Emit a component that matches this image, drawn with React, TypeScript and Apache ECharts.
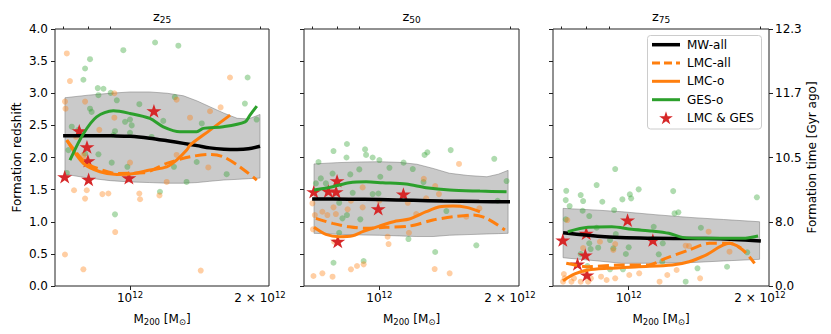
import React, { useEffect, useRef } from 'react';
import * as echarts from 'echarts';

// ---------- axes / labels ----------
const panelTitles = ['25', '50', '75'];
const xRangeMass = [0.6704, 2.098]; // in units of 1e12 Msun
const xMajorTickMasses = [1];
const xLabelMasses = [1, 2];
const xTickLabels = ['10{sup|12}', '2 × 10{sup|12}'];
const xMinorTickMasses = [0.7, 0.8, 0.9, 2];
const yRange = [0, 4];
const rightTickLabels = ['0.0', '8.0', '10.5', '11.7', '12.3'];
const legendNames = ['MW-all', 'LMC-all', 'LMC-o', 'GES-o', 'LMC & GES'];

// ---------- stars (LMC & GES), shared halo masses ----------
const starMass = [0.706, 0.763, 0.795, 0.799, 0.802, 0.994, 1.136];
const starZ25 = [1.70, 2.415, 2.166, 1.949, 1.66, 1.684, 2.726];
const starZ50 = [1.467, 1.477, 1.467, 1.638, 0.695, 1.202, 1.431];
const starZ75 = [0.715, 0.342, 0.482, 0.82, 0.171, 1.026, 0.715];

// ---------- z25 ----------
const band25M = [0.707, 0.80, 0.90, 1.0, 1.11, 1.22, 1.33, 1.43, 1.53, 1.65, 1.77, 1.88, 2.0];
const band25Top = [2.93, 2.97, 3.0, 3.02, 3.02, 3.0, 2.96, 2.88, 2.79, 2.69, 2.61, 2.60, 2.67];
const band25Bot = [1.74, 1.68, 1.64, 1.62, 1.61, 1.60, 1.60, 1.61, 1.63, 1.65, 1.66, 1.67, 1.68];
const mw25M = [0.70, 0.80, 0.915, 1.0, 1.11, 1.22, 1.33, 1.43, 1.53, 1.65, 1.77, 1.88, 2.0];
const mw25 = [2.34, 2.34, 2.337, 2.33, 2.30, 2.26, 2.22, 2.185, 2.15, 2.13, 2.125, 2.135, 2.175];
const ges25M = [0.726, 0.78, 0.837, 0.915, 1.0, 1.112, 1.194, 1.305, 1.427, 1.478, 1.644, 1.847, 1.896, 1.966];
const ges25 = [1.96, 2.37, 2.633, 2.726, 2.686, 2.608, 2.478, 2.40, 2.40, 2.453, 2.478, 2.555, 2.66, 2.80];
const lmco25M = [0.714, 0.78, 0.852, 0.932, 1.0, 1.112, 1.216, 1.282, 1.353, 1.377, 1.532, 1.705];
const lmco25 = [2.27, 1.908, 1.778, 1.737, 1.742, 1.804, 1.855, 1.96, 2.115, 2.193, 2.426, 2.66];
const lmca25M = [0.714, 0.78, 0.822, 0.932, 1.073, 1.216, 1.377, 1.532, 1.644, 1.796, 1.966];
const lmca25 = [2.27, 1.95, 1.855, 1.752, 1.762, 1.908, 2.011, 2.048, 2.011, 1.855, 1.649];
const gesDots25 = [[1.143,3.79],[1.294,3.74],[0.965,3.67],[0.808,3.53],[0.787,3.385],[0.780,3.21],[0.842,3.08],[0.868,3.07],[0.845,2.97],[0.902,3.006],[0.932,2.89],[1.051,2.83],[1.27,2.94],[1.194,2.57],[0.808,2.76],[0.815,2.71],[1.0,2.59],[0.974,2.555],[1.009,2.50],[1.0,2.385],[0.923,2.41],[0.915,2.35],[0.759,2.43],[0.733,2.48],[1.122,2.32],[1.466,2.53],[1.845,2.84],[1.964,2.59],[1.872,3.245],[0.720,2.115],[0.787,2.06],[0.845,2.05],[0.907,1.92],[0.986,1.855],[1.264,1.855],[1.427,1.93],[1.352,1.62],[1.674,1.74],[1.173,1.467],[0.923,1.115],[0.714,1.76]];
const lmcDots25 = [[0.714,3.62],[0.726,3.19],[0.707,2.87],[0.709,2.76],[0.787,2.87],[0.920,3.0],[0.849,2.43],[0.780,2.04],[0.787,1.96],[1.0,1.92],[1.282,2.04],[1.282,2.90],[1.377,2.62],[1.532,2.72],[1.621,2.78],[1.704,3.245],[1.518,1.845],[1.216,1.62],[0.742,1.49],[0.794,1.49],[0.787,1.36],[0.863,1.43],[0.891,1.44],[1.051,1.44],[1.055,1.35],[0.924,0.84],[0.707,0.49],[0.780,0.26],[1.458,0.24],[0.92,2.62],[0.75,2.32],[1.17,1.41]];

// ---------- z50 ----------
const band50M = [0.707, 0.80, 0.90, 1.0, 1.11, 1.22, 1.33, 1.45, 1.60, 1.77, 1.88, 1.98];
const band50Top = [1.90, 1.92, 1.93, 1.934, 1.925, 1.895, 1.83, 1.755, 1.72, 1.70, 1.74, 1.80];
const band50Bot = [0.82, 0.805, 0.795, 0.79, 0.78, 0.77, 0.77, 0.79, 0.80, 0.81, 0.815, 0.82];
const mw50M = [0.70, 0.85, 1.0, 1.2, 1.4, 1.7, 2.0];
const mw50 = [1.353, 1.352, 1.345, 1.335, 1.322, 1.315, 1.311];
const ges50M = [0.707, 0.78, 0.852, 0.932, 1.018, 1.153, 1.282, 1.452, 1.705, 1.964];
const ges50 = [1.493, 1.544, 1.607, 1.622, 1.607, 1.586, 1.529, 1.493, 1.477, 1.467];
const lmco50M = [0.707, 0.753, 0.808, 0.868, 0.915, 1.0, 1.093, 1.173, 1.282, 1.377, 1.478, 1.587, 1.705];
const lmco50 = [0.913, 0.804, 0.767, 0.782, 0.845, 0.933, 1.011, 1.042, 1.156, 1.233, 1.244, 1.224, 1.156];
const lmca50M = [0.714, 0.78, 0.852, 0.932, 1.036, 1.173, 1.329, 1.478, 1.644, 1.766, 1.947];
const lmca50 = [1.053, 0.975, 0.922, 0.897, 0.913, 0.933, 1.026, 1.078, 1.104, 1.053, 0.871];
const gesDots50 = [[0.842,2.21],[0.927,2.126],[0.784,2.10],[0.932,2.04],[0.840,2.00],[0.965,2.00],[1.0,1.96],[1.29,2.08],[1.271,2.04],[1.46,2.115],[1.84,1.98],[0.724,1.93],[1.137,1.92],[1.055,1.84],[1.194,1.82],[0.899,1.815],[0.78,1.75],[0.857,1.737],[1.005,1.70],[1.264,1.617],[0.733,1.675],[0.714,1.597],[0.753,1.597],[0.868,1.45],[0.965,1.43],[0.995,1.44],[0.808,1.295],[0.822,1.053],[0.842,1.104],[0.904,1.037],[1.427,1.166],[1.873,1.327],[1.964,1.633],[1.167,0.731],[1.345,0.529],[1.673,0.633],[0.784,0.362],[0.920,0.389],[0.808,0.829]];
const lmcDots50 = [[1.526,1.90],[1.266,1.668],[1.345,1.555],[0.915,1.535],[1.372,1.43],[1.282,1.364],[1.163,1.295],[1.0,1.327],[0.86,1.327],[0.701,1.286],[0.710,1.104],[0.739,1.156],[0.784,1.224],[0.915,1.224],[0.845,1.193],[0.759,1.104],[0.794,1.12],[1.70,1.208],[1.586,1.078],[1.216,1.12],[1.17,0.829],[1.045,0.767],[1.05,0.653],[0.787,0.689],[0.703,0.882],[0.86,0.26],[0.888,0.311],[0.92,0.337],[0.705,0.156],[0.739,0.197],[0.78,0.145],[1.341,0.264],[1.452,0.197]];

// ---------- z75 ----------
const band75M = [0.707, 0.85, 0.964, 1.15, 1.375, 1.65, 1.996];
const band75Top = [1.208, 1.18, 1.156, 1.11, 1.068, 1.035, 1.0];
const band75Bot = [0.44, 0.39, 0.353, 0.355, 0.363, 0.39, 0.415];
const mw75M = [0.707, 0.882, 1.152, 1.503, 1.75, 2.01];
const mw75 = [0.829, 0.767, 0.742, 0.738, 0.725, 0.70];
const ges75M = [0.725, 0.807, 0.914, 1.017, 1.131, 1.236, 1.328, 1.503, 1.827, 1.98];
const ges75 = [0.845, 0.913, 0.922, 0.882, 0.855, 0.82, 0.757, 0.742, 0.742, 0.778];
const lmco75M = [0.707, 0.752, 0.807, 0.898, 1.054, 1.259, 1.375, 1.503, 1.702, 1.81];
const lmco75 = [0.083, 0.187, 0.249, 0.275, 0.30, 0.327, 0.378, 0.482, 0.664, 0.59];
const lmca75M = [0.719, 0.807, 0.964, 1.111, 1.215, 1.375, 1.531, 1.702, 1.827, 1.944];
const lmca75 = [0.353, 0.30, 0.327, 0.327, 0.43, 0.56, 0.664, 0.664, 0.56, 0.353];
const gesDots75 = [[0.931,1.82],[0.844,1.571],[0.719,1.482],[0.776,1.415],[1.054,1.504],[1.006,1.426],[1.013,1.364],[1.265,1.477],[0.717,1.337],[0.786,1.322],[0.732,1.244],[0.87,1.311],[0.967,1.348],[0.784,1.171],[0.926,1.182],[1.274,1.13],[1.30,1.146],[1.968,1.38],[0.717,1.037],[0.812,1.089],[1.464,0.907],[0.844,0.907],[1.141,0.922],[0.934,0.809],[1.0,0.602],[0.812,0.664],[0.818,0.575],[0.851,0.596],[0.906,0.715],[0.922,0.586],[0.985,0.498],[1.197,0.664],[1.172,0.493],[1.194,0.378],[1.438,0.275],[1.681,0.30],[1.87,0.524],[1.351,0.067],[0.906,0.26],[0.97,0.26],[0.804,0.311],[0.776,0.498]];
const lmcDots75 = [[0.723,1.026],[0.859,0.689],[0.931,0.653],[0.922,0.56],[1.351,0.627],[1.375,0.622],[1.525,0.845],[1.703,0.534],[1.288,0.249],[1.458,0.12],[1.226,0.171],[1.177,0.067],[1.057,0.197],[1.003,0.171],[0.931,0.12],[0.89,0.093],[0.864,0.145],[0.807,0.067],[0.776,0.067],[0.749,0.12],[0.71,0.187],[0.713,0.12],[0.707,0.067],[0.739,0.067],[0.819,0.12],[0.796,0.223],[0.786,0.59]];

const FONT = 'DejaVu Sans';
const C_BLACK = '#000000';
const C_ORANGE = '#ff7f0e';
const C_GREEN = '#2ca02c';
const C_RED = '#d62728';
const STAR = 'path://M0,-100L22.45,-30.9L95.1,-30.9L36.3,11.8L58.8,80.9L0,38.2L-58.8,80.9L-36.3,11.8L-95.1,-30.9L-22.45,-30.9Z';

const lg = (m: number) => Math.log10(m);
const pts = (ms: number[], ys: number[]) => ms.map((m, k) => [lg(m), ys[k]]);
const dots = (arr: number[][]) => arr.map(([m, z]) => [lg(m), z]);

const panels = [
  { bandM: band25M, top: band25Top, bot: band25Bot, mwM: mw25M, mw: mw25, gesM: ges25M, ges: ges25, lmcoM: lmco25M, lmco: lmco25, lmcaM: lmca25M, lmca: lmca25, gesD: gesDots25, lmcD: lmcDots25, stars: starZ25 },
  { bandM: band50M, top: band50Top, bot: band50Bot, mwM: mw50M, mw: mw50, gesM: ges50M, ges: ges50, lmcoM: lmco50M, lmco: lmco50, lmcaM: lmca50M, lmca: lmca50, gesD: gesDots50, lmcD: lmcDots50, stars: starZ50 },
  { bandM: band75M, top: band75Top, bot: band75Bot, mwM: mw75M, mw: mw75, gesM: ges75M, ges: ges75, lmcoM: lmco75M, lmco: lmco75, lmcaM: lmca75M, lmca: lmca75, gesD: gesDots75, lmcD: lmcDots75, stars: starZ75 },
];

const gridLefts = [55, 304, 553];
const gridWidths = [214, 215, 216];
const gridTop = 29;
const gridHeight = 257;
const AX = '#222';

function starPoints(cx: number, cy: number, r: number) {
  const out: number[][] = [];
  for (let k = 0; k < 10; k++) {
    const a = (-90 + 36 * k) * Math.PI / 180;
    const rr = k % 2 === 0 ? r : r * 0.382;
    out.push([cx + rr * Math.cos(a), cy + rr * Math.sin(a)]);
  }
  return out;
}

function buildLegend() {
  const x0 = 647.5, y0 = 35.5, w = 114, h = 93.5;
  const rows = [44.7, 63, 81.3, 99.7, 118];
  const styles = [
    { stroke: C_BLACK, lineWidth: 3.5 },
    { stroke: C_ORANGE, lineWidth: 3, lineDash: [8, 4] },
    { stroke: C_ORANGE, lineWidth: 3 },
    { stroke: C_GREEN, lineWidth: 3 },
  ];
  const children: any[] = [
    { type: 'rect', shape: { x: x0, y: y0, width: w, height: h, r: 3 }, style: { fill: 'rgba(255,255,255,0.85)', stroke: '#cccccc', lineWidth: 1 } },
  ];
  styles.forEach((s, k) => {
    children.push({ type: 'line', shape: { x1: 652, y1: rows[k], x2: 680, y2: rows[k] }, style: { ...s, lineCap: 'butt' } });
  });
  children.push({ type: 'polygon', shape: { points: starPoints(666, rows[4] + 0.5, 7.2) }, style: { fill: C_RED } });
  legendNames.forEach((n, k) => {
    children.push({ type: 'text', x: 687, y: rows[k], style: { text: n, fontFamily: FONT, fontSize: 12, fill: '#000', align: 'left', verticalAlign: 'middle' } });
  });
  return { type: 'group', z: 200, children };
}

function buildOption() {
  const grids = gridLefts.map((l, i) => ({
    left: l, top: gridTop, width: gridWidths[i], height: gridHeight,
    show: true, borderColor: AX, borderWidth: 1, backgroundColor: 'transparent',
  }));
  const xMin = lg(xRangeMass[0]);
  const xMax = lg(xRangeMass[1]);
  const xMain = gridLefts.map((_, i) => ({
    type: 'value', gridIndex: i, min: xMin, max: xMax,
    axisLine: { show: false, onZero: false },
    splitLine: { show: false },
    axisTick: { show: true, length: 4, inside: false, customValues: xMajorTickMasses.map(lg), lineStyle: { color: AX } },
    axisLabel: {
      show: true, customValues: xLabelMasses.map(lg), margin: 4,
      fontFamily: FONT, fontSize: 12, color: '#000', lineHeight: 16,
      formatter: (v: number) => {
        const k = xLabelMasses.findIndex((m) => Math.abs(lg(m) - v) < 1e-6);
        return k >= 0 ? xTickLabels[k] : '';
      },
      rich: { sup: { fontSize: 8.5, lineHeight: 11, verticalAlign: 'top', fontFamily: FONT, color: '#000' } },
    },
    name: 'M{sub|200} [M{sub|⊙}]', nameLocation: 'middle', nameGap: 20,
    nameTextStyle: {
      fontFamily: FONT, fontSize: 12, color: '#000', lineHeight: 16,
      rich: { sub: { fontSize: 8.5, lineHeight: 8, verticalAlign: 'bottom', fontFamily: FONT, color: '#000' } },
    },
  }));
  const xMinor = gridLefts.map((_, i) => ({
    type: 'value', gridIndex: i, min: xMin, max: xMax,
    axisLine: { show: false, onZero: false },
    splitLine: { show: false },
    axisTick: { show: true, length: 2.5, inside: false, customValues: xMinorTickMasses.map(lg), lineStyle: { color: AX } },
    axisLabel: { show: false },
  }));
  const yLeft = gridLefts.map((_, i) => ({
    type: 'value', gridIndex: i, min: yRange[0], max: yRange[1], interval: 0.5,
    axisLine: { show: false, onZero: false },
    splitLine: { show: false },
    axisTick: { show: true, length: 4, lineStyle: { color: AX } },
    axisLabel: { show: i === 0, margin: 7, fontFamily: FONT, fontSize: 12, color: '#000', formatter: (v: number) => v.toFixed(1) },
    name: i === 0 ? 'Formation redshift' : '', nameLocation: 'middle', nameGap: 32,
    nameTextStyle: { fontFamily: FONT, fontSize: 12, color: '#000' },
  }));
  const yRight = {
    type: 'value', gridIndex: 2, position: 'right', min: yRange[0], max: yRange[1], interval: 1,
    axisLine: { show: false, onZero: false },
    splitLine: { show: false },
    axisTick: { show: true, length: 4, lineStyle: { color: AX } },
    axisLabel: { show: true, margin: 6, fontFamily: FONT, fontSize: 12, color: '#000', formatter: (v: number) => rightTickLabels[Math.round(v)] ?? '' },
    name: 'Formation time [Gyr ago]', nameLocation: 'middle', nameGap: 37,
    nameTextStyle: { fontFamily: FONT, fontSize: 12, color: '#000' },
  };

  const series: any[] = [];
  panels.forEach((p, i) => {
    const ax = { xAxisIndex: i, yAxisIndex: i };
    series.push({ ...ax, type: 'scatter', name: 'gesdots' + i, data: dots(p.gesD), symbol: 'circle', symbolSize: 6, itemStyle: { color: C_GREEN, opacity: 0.38 }, silent: true });
    series.push({ ...ax, type: 'scatter', name: 'lmcdots' + i, data: dots(p.lmcD), symbol: 'circle', symbolSize: 6, itemStyle: { color: C_ORANGE, opacity: 0.38 }, silent: true });
    const bandData = p.bandM.map((m, k) => [lg(m), p.bot[k], p.top[k]]);
    series.push({
      ...ax, type: 'custom', name: 'band' + i, silent: true, clip: true,
      data: bandData, encode: { x: 0, y: [1, 2] },
      renderItem: (params: any, api: any) => {
        if (params.dataIndex !== 0) return null;
        const upper = bandData.map((d) => api.coord([d[0], d[2]]));
        const lower = bandData.map((d) => api.coord([d[0], d[1]])).reverse();
        return {
          type: 'polygon',
          shape: { points: [...upper, ...lower] },
          style: { fill: 'rgba(128,128,128,0.42)', stroke: 'rgba(110,110,110,0.6)', lineWidth: 0.8 },
        };
      },
    });
    series.push({ ...ax, type: 'line', name: 'MW-all', data: pts(p.mwM, p.mw), symbol: 'none', smooth: 0.3, lineStyle: { color: C_BLACK, width: 3.5 }, itemStyle: { color: C_BLACK } });
    series.push({ ...ax, type: 'line', name: 'LMC-all', data: pts(p.lmcaM, p.lmca), symbol: 'none', smooth: 0.3, lineStyle: { color: C_ORANGE, width: 3, type: [11, 5] }, itemStyle: { color: C_ORANGE } });
    series.push({ ...ax, type: 'line', name: 'LMC-o', data: pts(p.lmcoM, p.lmco), symbol: 'none', smooth: 0.3, lineStyle: { color: C_ORANGE, width: 3 }, itemStyle: { color: C_ORANGE } });
    series.push({ ...ax, type: 'line', name: 'GES-o', data: pts(p.gesM, p.ges), symbol: 'none', smooth: 0.3, lineStyle: { color: C_GREEN, width: 3 }, itemStyle: { color: C_GREEN } });
    series.push({ ...ax, type: 'scatter', name: 'LMC & GES', data: pts(starMass, p.stars), symbol: STAR, symbolSize: [15, 14.3], symbolKeepAspect: true, itemStyle: { color: C_RED, opacity: 1 } });
  });

  const graphic: any[] = gridLefts.map((l, i) => ({
    type: 'text', x: l + gridWidths[i] / 2, y: 8, z: 100,
    style: {
      text: `z{sub|${panelTitles[i]}}`, fontFamily: FONT, fontSize: 13, fill: '#000',
      align: 'center', verticalAlign: 'top', lineHeight: 16,
      rich: { sub: { fontSize: 9, lineHeight: 8, verticalAlign: 'bottom', fontFamily: FONT, fill: '#000' } },
    },
  }));
  graphic.push(buildLegend());

  return {
    animation: false,
    textStyle: { fontFamily: FONT },
    grid: grids,
    xAxis: [...xMain, ...xMinor],
    yAxis: [...yLeft, yRight],
    graphic,
    series,
  };
}

export default function App() {
  const ref = useRef<HTMLDivElement>(null);
  useEffect(() => {
    if (!ref.current) return;
    const chart = echarts.init(ref.current, undefined, { renderer: 'svg' });
    chart.setOption(buildOption() as any);
    return () => chart.dispose();
  }, []);
  return <div ref={ref} style={{ position: 'absolute', left: 0, top: 0, width: 831, height: 334, background: '#fff' }} />;
}
